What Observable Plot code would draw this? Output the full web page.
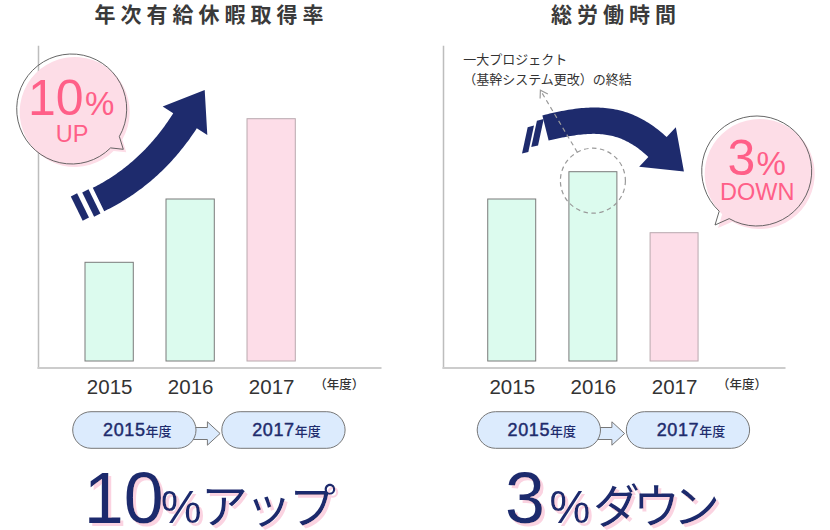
<!DOCTYPE html>
<html><head><meta charset="utf-8">
<script src="https://cdn.jsdelivr.net/npm/d3@7"></script>
<script src="https://cdn.jsdelivr.net/npm/@observablehq/plot@0.6"></script>
<style>
html,body{margin:0;padding:0;background:#fff;}
#wrap{position:relative;width:830px;height:530px;overflow:hidden;background:#fff;}
.panel{position:absolute;top:40px;}
.overlay{position:absolute;left:0;top:0;pointer-events:none;}
</style></head><body><div id="wrap"></div>
<script>
// ---------- data ----------
const years = ["2015", "2016", "2017"];
const leaveRate = [98.7, 162, 242.3];     // 年次有給休暇取得率 (relative bar heights)
const workHours = [162, 189.3, 128.3];    // 総労働時間 (relative bar heights)
const titles = ["年次有給休暇取得率", "総労働時間"];
const unitLabel = "（年度）";
const highlightYear = "2017";
const pillYears = ["2015", "2017"];
const pillUnit = "年度";
const bubbleNumbers = ["10", "3"];
const bubbleWords = ["UP", "DOWN"];
const headlineNumbers = ["10", "3"];
const headlineWords = ["アップ", "ダウン"];
const noteText = "一大プロジェクト\n（基幹システム更改）の終結";

// ---------- styles ----------
const SANS = "'Liberation Sans', Arial, Helvetica, sans-serif";
const JP = "'Noto Sans CJK JP', 'Noto Sans', sans-serif";
const MINT = "#dcfbee", MINT_STROKE = "#7a7a7a";
const PINK = "#fddde8", PINK_STROKE = "#b9a9ae";
const NAVY = "#1e2b6d";
const PINK_TEXT = "#ff5f88";
const BUBBLE = "#fddde7";

const wrap = d3.select("#wrap");

function panel(values, o) {
  const data = years.map((y, i) => ({year: y, value: values[i]}));
  return Plot.plot({
    width: 415, height: 360,
    marginTop: 6, marginBottom: 32.5, marginLeft: o.ml, marginRight: o.mr,
    style: {fontFamily: SANS, background: "transparent", overflow: "visible", color: "#333"},
    x: {type: "band", domain: years, range: o.xr, paddingInner: o.pi, paddingOuter: 0.2, round: false},
    y: {domain: [-6.5, 315], axis: null},
    marks: [
      Plot.frame({anchor: "left", stroke: "#bdbdbd", strokeWidth: 1.5}),
      Plot.frame({anchor: "bottom", stroke: "#cccccc", strokeWidth: 2}),
      Plot.barY(data, {x: "year", y: "value", filter: d => d.year !== highlightYear, fill: MINT, stroke: MINT_STROKE, strokeWidth: 1}),
      Plot.barY(data, {x: "year", y: "value", filter: d => d.year === highlightYear, fill: PINK, stroke: PINK_STROKE, strokeWidth: 1}),
      Plot.axisX({tickSize: 0, tickPadding: 11, fontSize: 20.5, fill: "#333", fontFamily: SANS, label: null}),
      Plot.text([unitLabel], {x: () => highlightYear, text: d => d, frameAnchor: "bottom", dy: 21, dx: 42.5, textAnchor: "start", fontSize: 12.5, fontWeight: 500, fontFamily: JP, fill: "#333"}),
      ...(o.extra || [])
    ]
  });
}

const cfg = [
  {values: leaveRate, left: 0, ml: 38, mr: 35, xr: [68.8, 311.5], pi: 0.404},
  {values: workHours, left: 415, ml: 28, mr: 46, xr: [56.5, 299.3], pi: 0.409,
   extra: [Plot.text([noteText], {text: d => d, frameAnchor: "top-left", dx: 19.7, dy: 3, lineAnchor: "top", lineHeight: 1.54, fontSize: 13, fontFamily: JP, fill: "#333"})]}
];
const plots = cfg.map(c => {
  const p = panel(c.values, c);
  const div = wrap.append("div").attr("class", "panel").style("left", c.left + "px");
  div.node().appendChild(p);
  return p;
});

// ---------- overlay decorations ----------
const svg = wrap.append("svg").attr("class", "overlay").attr("width", 830).attr("height", 530)
  .attr("viewBox", "0 0 830 530");
const defs = svg.append("defs");
const flt = defs.append("filter").attr("id", "pinkShadow").attr("x", "-10%").attr("y", "-20%").attr("width", "130%").attr("height", "150%");
flt.append("feOffset").attr("in", "SourceAlpha").attr("dx", 3).attr("dy", 3).attr("result", "off");
flt.append("feFlood").attr("flood-color", "#fbd3e1").attr("result", "col");
flt.append("feComposite").attr("in", "col").attr("in2", "off").attr("operator", "in").attr("result", "sh");
const fm = flt.append("feMerge");
fm.append("feMergeNode").attr("in", "sh");
fm.append("feMergeNode").attr("in", "SourceGraphic");

function cubic(P0, C1, C2, P3) {
  const f = (t, k) => (1-t)**3*P0[k] + 3*(1-t)**2*t*C1[k] + 3*(1-t)*t*t*C2[k] + t**3*P3[k];
  const d = (t, k) => 3*(1-t)**2*(C1[k]-P0[k]) + 6*(1-t)*t*(C2[k]-C1[k]) + 3*t*t*(P3[k]-C2[k]);
  return {pt: t => [f(t,0), f(t,1)], tan: t => { const a = d(t,0), b = d(t,1), l = Math.hypot(a,b); return [a/l, b/l]; }};
}
function thickArrow(P0, C1, C2, P3, w0, w1, headHalf, headLen, stripes, stripeDir) {
  const c = cubic(P0, C1, C2, P3), N = 60, L = [], R = [];
  for (let i = 0; i <= N; i++) {
    const t = i / N, p = c.pt(t), u = c.tan(t), n = [-u[1], u[0]], w = (w0 + (w1 - w0) * t) / 2;
    L.push([p[0] + n[0]*w, p[1] + n[1]*w]);
    R.push([p[0] - n[0]*w, p[1] - n[1]*w]);
  }
  const u2 = c.tan(1), n2 = [-u2[1], u2[0]];
  const pts = [...L, [P3[0] + n2[0]*headHalf, P3[1] + n2[1]*headHalf], [P3[0] + u2[0]*headLen, P3[1] + u2[1]*headLen],
    [P3[0] - n2[0]*headHalf, P3[1] - n2[1]*headHalf], ...R.reverse()];
  svg.append("path").attr("d", "M" + pts.map(p => p.join(",")).join("L") + "Z").attr("fill", NAVY);
  const u0 = c.tan(0), n0 = [-u0[1], u0[0]], dir = stripeDir || n0, h = w0 / 2 + 0.5;
  stripes.forEach(s => {
    const q = (a, k) => [P0[0] + u0[0]*a + n0[0]*s.o + dir[0]*k, P0[1] + u0[1]*a + n0[1]*s.o + dir[1]*k];
    const poly = [q(s.a, -h), q(s.b, -h), q(s.b, h), q(s.a, h)];
    svg.append("path").attr("d", "M" + poly.map(p => p.join(",")).join("L") + "Z").attr("fill", NAVY);
  });
}
// up arrow (left)
thickArrow([98.5, 199.5], [133.7, 182.2], [162.5, 155.9], [185, 120.8], 26, 28, 26.5, 36.5,
  [{a: -11.5, b: -4.5, o: 0}, {a: -23.5, b: -16.5, o: -1.5}]);
// down arrow (right)
thickArrow([545.5, 128], [594, 116], [624.4, 116.4], [657.5, 147], 26, 27, 27, 36,
  [{a: -12.5, b: -5.5, o: 3}, {a: -23, b: -16.5, o: 7}], [-0.21, 0.977]);

function bubble(cx, cy, r, aDeg, bDeg, tip, num, word, numX, pctX, numBase, wordBase) {
  const rad = Math.PI / 180;
  const A = [cx + r*Math.cos(aDeg*rad), cy + r*Math.sin(aDeg*rad)];
  const B = [cx + r*Math.cos(bDeg*rad), cy + r*Math.sin(bDeg*rad)];
  const p = d3.path();
  p.moveTo(A[0], A[1]); p.lineTo(tip[0], tip[1]); p.lineTo(B[0], B[1]);
  p.arc(cx, cy, r, bDeg*rad, aDeg*rad + 2*Math.PI, false); p.closePath();
  svg.append("path").attr("d", p.toString()).attr("fill", BUBBLE).attr("transform", "translate(3,3)");
  svg.append("path").attr("d", p.toString()).attr("fill", "none").attr("stroke", "#555").attr("stroke-width", 0.9);
  const t = svg.append("text").attr("fill", PINK_TEXT).attr("font-family", SANS);
  t.append("tspan").attr("x", numX).attr("y", numBase).attr("font-size", 50).text(num);
  t.append("tspan").attr("x", pctX).attr("y", numBase).attr("font-size", 33).text("%");
  t.append("tspan").attr("x", cx + 0.5).attr("y", wordBase).attr("text-anchor", "middle")
    .attr("font-size", 23.5).text(word);
}
bubble(71.7, 109, 55, 30, 45, [123.3, 149.3], bubbleNumbers[0], bubbleWords[0], 27.9, 85, 115, 141.7);
bubble(756.7, 171, 55, 120, 133, [715, 225], bubbleNumbers[1], bubbleWords[1], 727.5, 756.5, 175, 200);

// dashed highlight on right panel 2016 bar, positioned from the plot's own scales
{
  const sx = plots[1].scale("x"), sy = plots[1].scale("y");
  const cx = cfg[1].left + sx.apply("2016") + sx.bandwidth / 2;
  const cy = 40 + sy.apply(workHours[1]) + 9;
  const r = 32.5;
  svg.append("circle").attr("cx", cx).attr("cy", cy).attr("r", r).attr("fill", "none")
    .attr("stroke", "#9a9a9a").attr("stroke-width", 1.2).attr("stroke-dasharray", "4.5,3.5");
  const a = -118.7 * Math.PI / 180;
  const s = [cx + r*Math.cos(a), cy + r*Math.sin(a)], e = [cx - 52.5, cy - 90.5];
  svg.append("line").attr("x1", s[0]).attr("y1", s[1]).attr("x2", e[0]).attr("y2", e[1])
    .attr("stroke", "#9a9a9a").attr("stroke-width", 1.2).attr("stroke-dasharray", "4.5,3.5");
  const v = [e[0]-s[0], e[1]-s[1]], l = Math.hypot(v[0], v[1]), u = [v[0]/l, v[1]/l], n = [-u[1], u[0]];
  svg.append("path").attr("d", `M${e[0]-u[0]*7+n[0]*4.5},${e[1]-u[1]*7+n[1]*4.5}L${e[0]},${e[1]}L${e[0]-u[0]*7-n[0]*4.5},${e[1]-u[1]*7-n[1]*4.5}`)
    .attr("fill", "none").attr("stroke", "#9a9a9a").attr("stroke-width", 1.2);
}

// titles, pills, headlines
const centers = [209, 613.5];
centers.forEach((c, i) => {
  svg.append("text").attr("x", c + 2.5).attr("y", 22).attr("text-anchor", "middle").attr("font-family", JP)
    .attr("font-weight", 700).attr("font-size", 21).attr("letter-spacing", 5).attr("fill", "#3a3a3a").text(titles[i]);

  const py = 411.7, ph = 36.6, ay = 433.5;
  svg.append("path").attr("d", `M${c-20},${ay-6}L${c-1.6},${ay-6}L${c-1.6},${ay-11.7}L${c+11.1},${ay}L${c-1.6},${ay+11.7}L${c-1.6},${ay+6}L${c-20},${ay+6}Z`)
    .attr("fill", "#dcebfd").attr("stroke", "#777").attr("stroke-width", 1);
  [[c - 136.3, c - 13], [c + 12.8, c + 136.1]].forEach(([x0, x1], k) => {
    svg.append("rect").attr("x", x0).attr("y", py).attr("width", x1 - x0).attr("height", ph)
      .attr("rx", ph / 2).attr("fill", "#dcebfd").attr("stroke", "#777").attr("stroke-width", 1);
    const t = svg.append("text").attr("x", (x0 + x1) / 2 + 3).attr("y", 435.5).attr("text-anchor", "middle").attr("fill", NAVY);
    t.append("tspan").attr("font-family", SANS).attr("font-size", 18).attr("letter-spacing", 0.6)
      .attr("stroke", NAVY).attr("stroke-width", 0.45).text(pillYears[k]);
    t.append("tspan").attr("font-family", JP).attr("font-weight", 500).attr("font-size", 13).text(pillUnit);
  });

  const xs = i === 0 ? [83.8, 160.7, 201] : [505, 549.4, 593];
  const ls = i === 0 ? -3 : -7;
  const t = svg.append("text").attr("fill", NAVY).attr("filter", "url(#pinkShadow)");
  t.append("tspan").attr("x", xs[0]).attr("y", 523).attr("font-family", SANS).attr("font-size", 72).text(headlineNumbers[i]);
  t.append("tspan").attr("x", xs[1]).attr("y", 523).attr("font-family", SANS).attr("font-size", 46).text("%");
  t.append("tspan").attr("x", xs[2]).attr("y", 523).attr("font-family", JP).attr("font-size", 47)
    .attr("letter-spacing", ls).text(headlineWords[i]);
});
</script></body></html>
